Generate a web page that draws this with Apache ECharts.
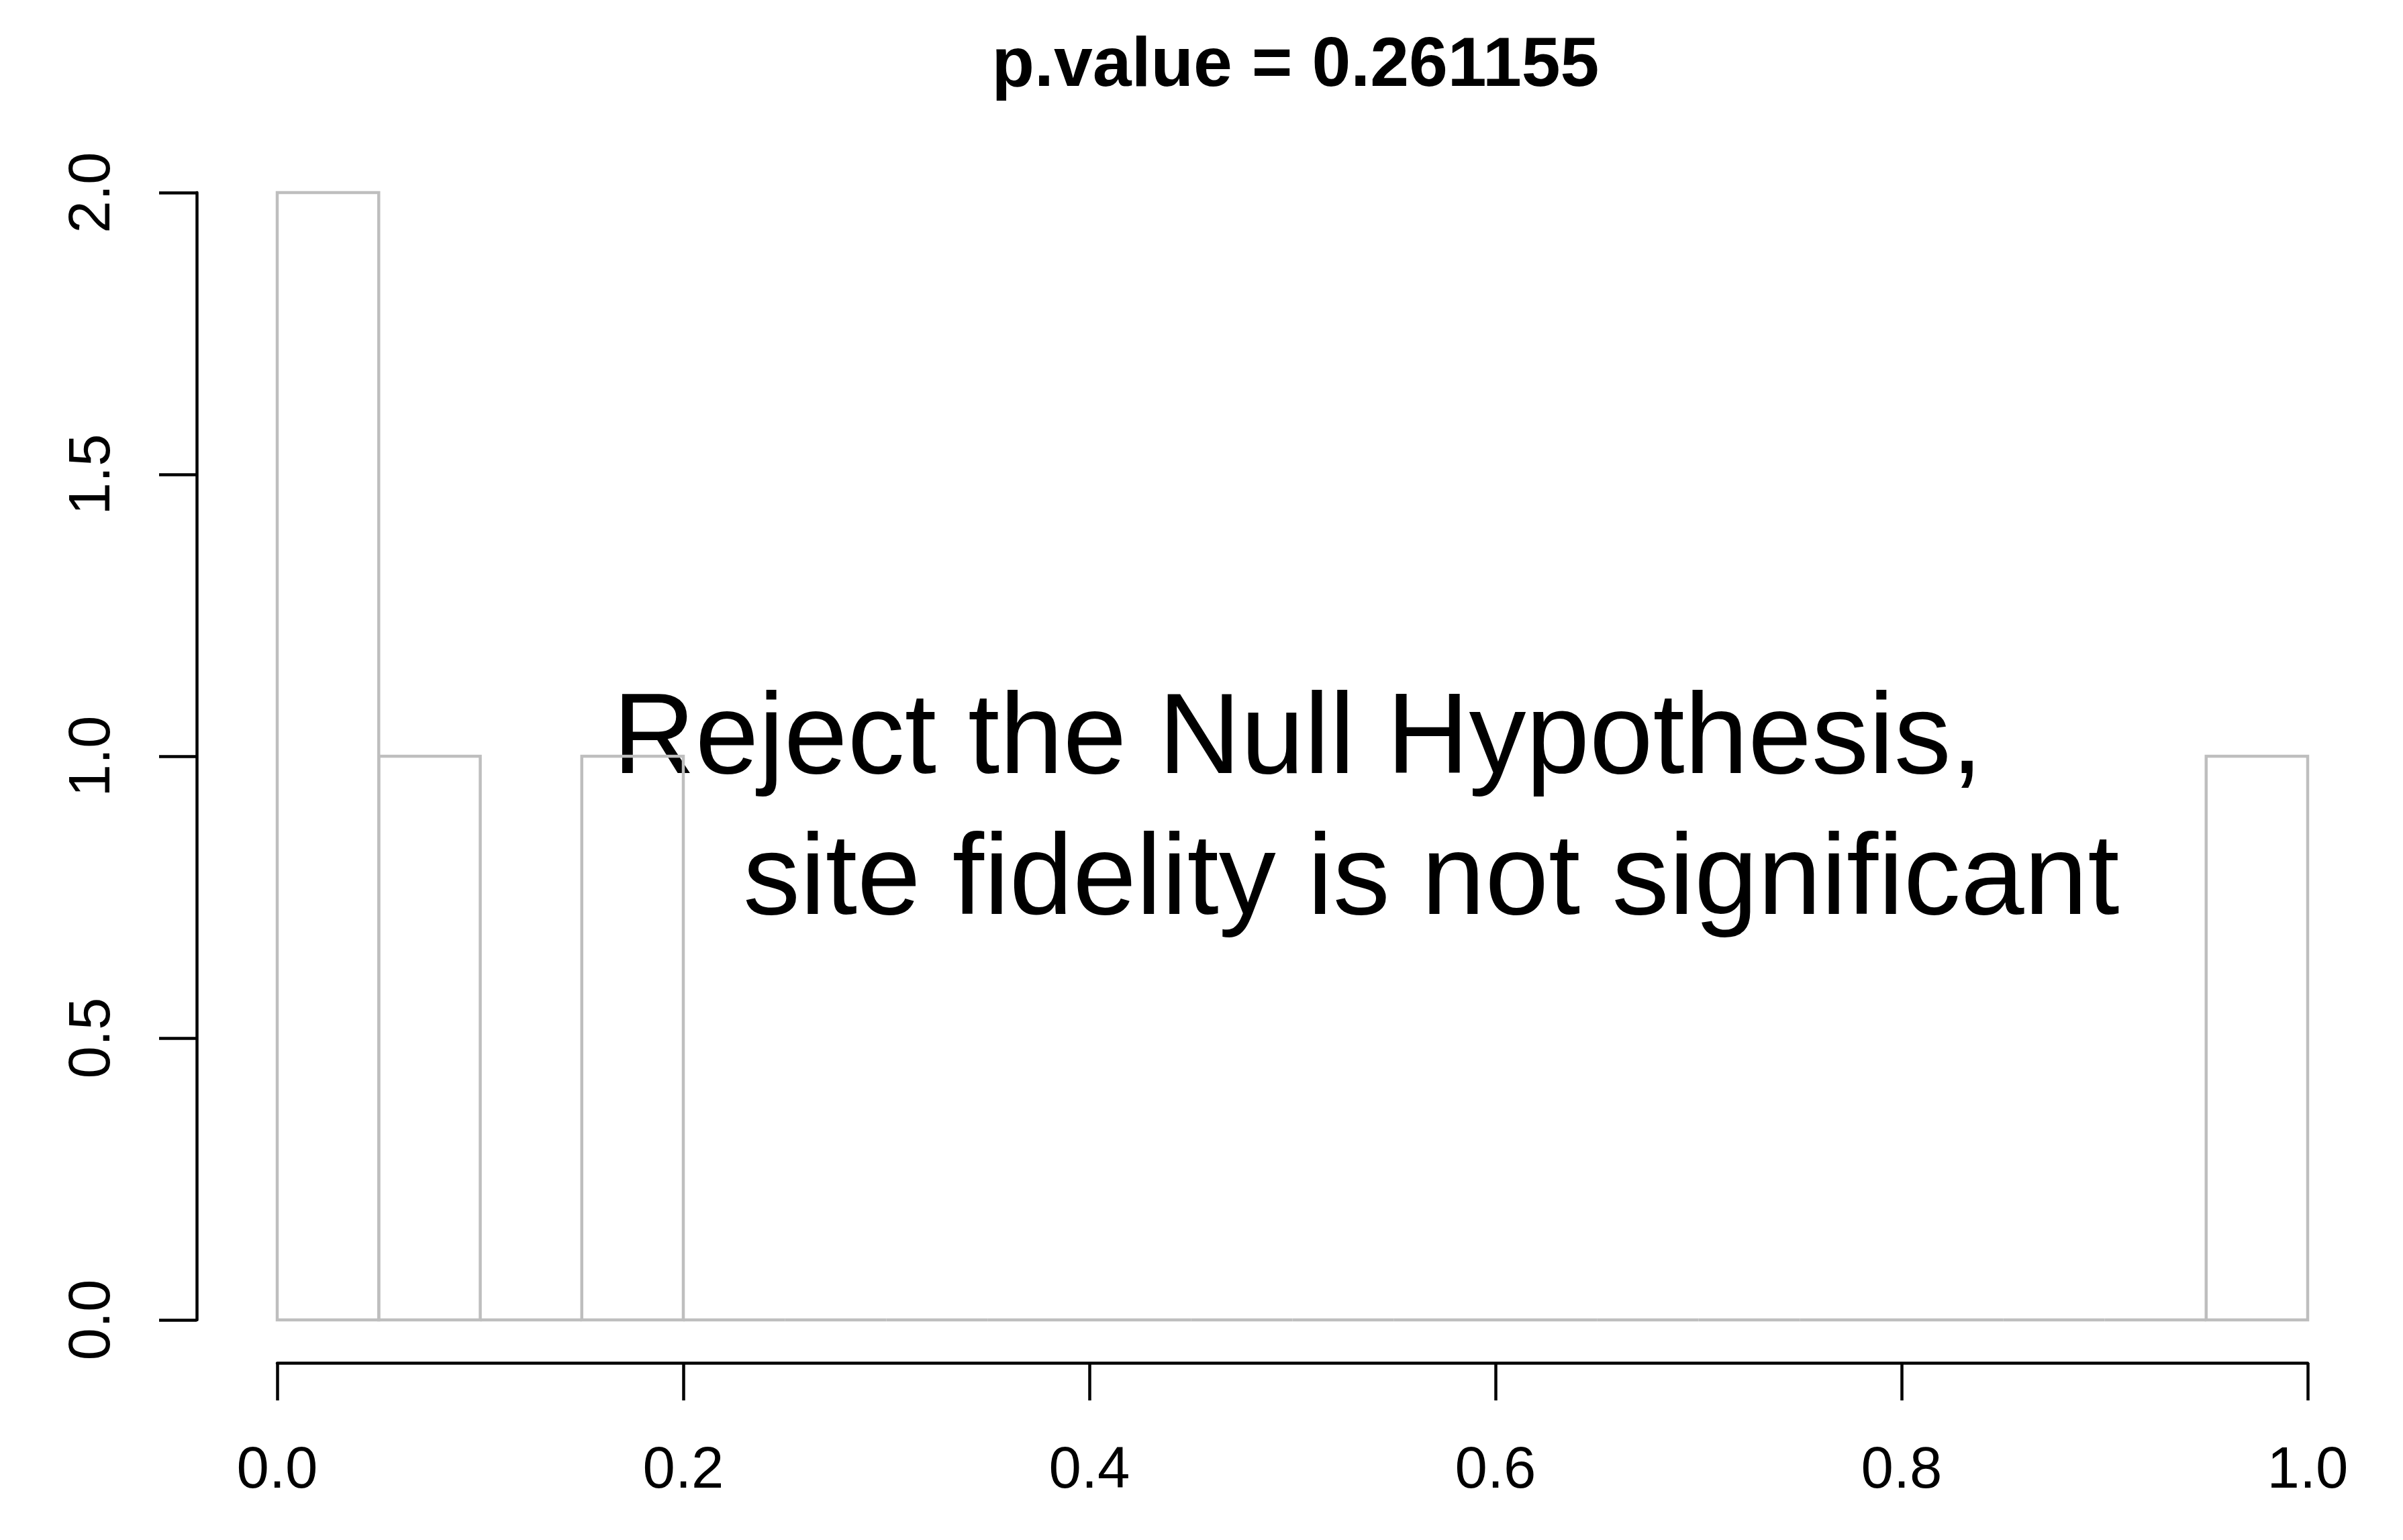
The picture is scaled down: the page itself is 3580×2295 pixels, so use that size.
<!DOCTYPE html>
<html lang="en">

<head>
    <meta charset="UTF-8">
    <title>p.value histogram</title>
    <style>
        html, body { margin: 0; padding: 0; background: #fff; }
    </style>
</head>

<body>
    <div id="main" style="width:3580px;height:2295px;"></div>
</body>
<script src="https://cdn.jsdelivr.net/npm/echarts@6/dist/echarts.min.js"></script>
<script>
    // histogram data
    var binStart = [0.00, 0.05, 0.10, 0.15, 0.20, 0.25, 0.30, 0.35, 0.40, 0.45,
                    0.50, 0.55, 0.60, 0.65, 0.70, 0.75, 0.80, 0.85, 0.90, 0.95]
    var binEnd = [0.05, 0.10, 0.15, 0.20, 0.25, 0.30, 0.35, 0.40, 0.45, 0.50,
                  0.55, 0.60, 0.65, 0.70, 0.75, 0.80, 0.85, 0.90, 0.95, 1.00]
    var counts = [2, 1, 0, 1, 0, 0, 0, 0, 0, 0,
                  0, 0, 0, 0, 0, 0, 0, 0, 0, 1]
    var xTicks = [0, 0.2, 0.4, 0.6, 0.8, 1.0]
    var yTicks = [0, 0.5, 1.0, 1.5, 2.0]
    var titleText = 'p.value = 0.261155'
    var noteLines = ['Reject the Null Hypothesis,', 'site fidelity is not significant']

    var data = []
    for (var i = 0; i < counts.length; i++) {
        data.push([binStart[i], binEnd[i], counts[i]])
    }

    var font = '"Liberation Sans", Arial, sans-serif'
    var myChart = echarts.init(document.getElementById('main'))

    var option = {
        backgroundColor: '#fff',
        animation: false,
        title: {
            text: titleText,
            left: 1925,
            top: 42,
            textAlign: 'center',
            textStyle: { fontFamily: font, fontWeight: 'bold', fontSize: 104, color: '#000' }
        },
        grid: { left: 413, right: 142, top: 287, bottom: 328 },
        xAxis: {
            type: 'value',
            min: xTicks[0],
            max: xTicks[xTicks.length - 1],
            interval: 0.2,
            offset: 64,
            splitLine: { show: false },
            axisLine: { onZero: false, lineStyle: { color: '#000', width: 4.5 } },
            axisTick: { length: 56, lineStyle: { color: '#000', width: 4.5 } },
            axisLabel: {
                margin: 119,
                fontFamily: font, fontSize: 87, color: '#000',
                formatter: function (v) { return v.toFixed(1) }
            }
        },
        yAxis: {
            type: 'value',
            min: yTicks[0],
            max: yTicks[yTicks.length - 1],
            interval: 0.5,
            offset: 120,
            splitLine: { show: false },
            axisLine: { show: true, onZero: false, lineStyle: { color: '#000', width: 4.5 } },
            axisTick: { show: true, length: 56, lineStyle: { color: '#000', width: 4.5 } },
            axisLabel: {
                rotate: 90,
                margin: 110,
                fontFamily: font, fontSize: 87, color: '#000',
                formatter: function (v) { return v.toFixed(1) }
            }
        },
        graphic: [
            {
                type: 'text', left: 913, top: 1020,
                style: { text: noteLines[0], font: '170px ' + font, fill: '#000' }
            },
            {
                type: 'text', left: 1107, top: 1230,
                style: { text: noteLines[1], font: '170px ' + font, fill: '#000' }
            }
        ],
        series: [{
            type: 'custom',
            renderItem: function (params, api) {
                var p0 = api.coord([api.value(0), api.value(2)])
                var p1 = api.coord([api.value(1), 0])
                return {
                    type: 'rect',
                    shape: { x: p0[0], y: p0[1], width: p1[0] - p0[0], height: p1[1] - p0[1] },
                    style: { fill: 'none', stroke: '#BEBEBE', lineWidth: 4.5 }
                }
            },
            encode: { x: [0, 1], y: 2 },
            data: data
        }]
    }

    myChart.setOption(option)
</script>

</html>
